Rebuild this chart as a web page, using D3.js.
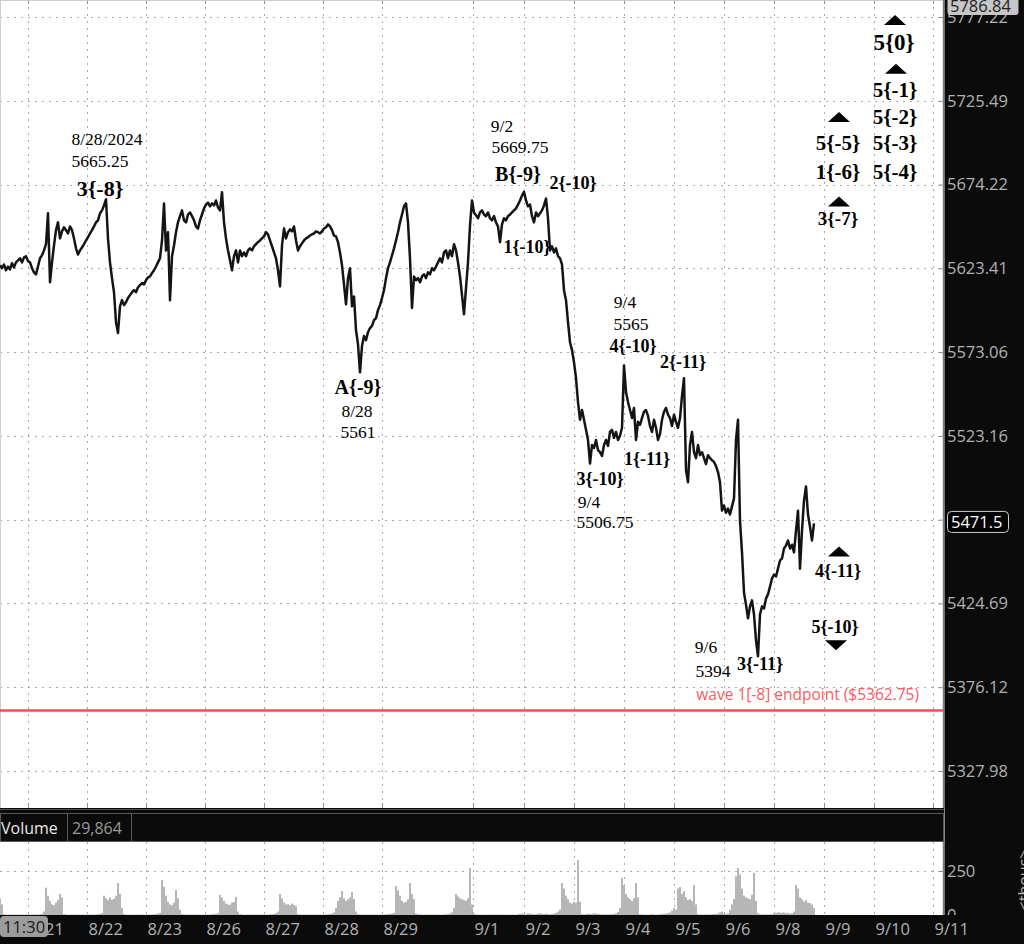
<!DOCTYPE html>
<html><head><meta charset="utf-8">
<script src="https://cdn.jsdelivr.net/npm/d3@7/dist/d3.min.js"></script>
<style>
html,body{margin:0;padding:0;background:#fff;}
svg{display:block;}
</style></head><body>
<svg id="c" width="1024" height="944"></svg>
<script>
// ---------------- DATA ----------------
// price per bar (bar index = position in the array)
const prices = [
5625.25,5623.5,5625.75,5622.25,5624.5,5622.75,5626.5,5624,5627,5628.25,
5629.5,5627,5630,5630.75,5627.75,5627,5623.5,5621,5619.75,5624.5,
5629.5,5631.25,5634.25,5638,5656.75,5615,5627,5637.25,5646.5,5651.25,
5641.5,5645.75,5648.25,5646.5,5644.5,5648.75,5646.5,5641.5,5635.5,5631.75,
5634.25,5636,5638,5640.25,5642.25,5644.5,5646.5,5648.75,5651.25,5652.5,
5656.75,5658.5,5661.5,5665.25,5641.5,5627,5617.5,5609,5591,5584.5,
5600.5,5604.25,5601.25,5603,5605.5,5607.25,5609,5610.25,5609,5612,
5613.25,5614.5,5613.75,5616.25,5618,5618.5,5620.5,5622.25,5624.5,5627,
5629.5,5640.25,5662.75,5634.25,5645.25,5604.25,5630.75,5637.25,5645.25,5651.25,
5655,5658.5,5652.5,5651.25,5656,5657.25,5655,5652.5,5648.75,5647.5,
5652.5,5656,5659.75,5662,5663.25,5661,5662.75,5661.5,5664.5,5660.25,
5658.5,5669.5,5651.25,5641.5,5634.25,5628.25,5622.25,5630.75,5634.25,5627,
5634.25,5630.75,5633,5630.75,5634.25,5635.5,5634.25,5636.75,5638,5639.25,
5640.25,5641.5,5642.75,5645.25,5644,5640.25,5636.75,5633,5629.5,5622.25,
5612.5,5637.25,5647.5,5641.5,5645.25,5647,5645.75,5648.75,5640.25,5634.25,
5636.75,5638.5,5640.25,5641.5,5642.25,5643.25,5644,5644.5,5645.75,5645.25,
5644.5,5645.75,5647.5,5648.25,5650,5648.75,5646.5,5643.25,5642.75,5639.25,
5633,5625.25,5613.75,5601.75,5617.5,5623.5,5600.5,5606.5,5586.25,5577.75,
5561,5576.75,5582.75,5580.25,5585,5587.5,5588.75,5592.25,5593.5,5598.25,
5601.25,5605.5,5610.25,5617.5,5623.5,5627,5631.25,5635.5,5640.25,5645.25,
5651.25,5656,5661,5662.75,5651.25,5629.5,5599.5,5618.5,5616.25,5617.5,
5615,5618.5,5619.75,5617.5,5621,5619.75,5623.5,5622.25,5624.5,5627,
5629.5,5627,5633,5634.25,5629.5,5634.25,5630.75,5638,5634.25,5627,
5618.5,5607.25,5595.75,5611.5,5627,5649.5,5664.5,5657.25,5655.5,5653.75,
5657.25,5658.5,5656,5655,5657.25,5653.75,5652.5,5655,5651.25,5648.75,
5639.25,5650,5653.75,5652.5,5655,5656,5657.25,5658.5,5659.75,5662,
5664.5,5667.5,5669.75,5664.5,5661,5662,5655,5651.25,5657.25,5655,
5656.75,5658.5,5661.5,5665.75,5653.75,5634.25,5636.75,5633,5635.5,5630.75,
5629.5,5625.75,5610.25,5604.25,5591,5579,5574.25,5567,5557.5,5543.25,
5532.75,5538.5,5532.75,5526.75,5520.75,5506.75,5517.75,5516,5520.75,5514.75,
5513.5,5511.25,5517.75,5520.75,5517.25,5525.5,5526.75,5522,5525.5,5520.75,
5523.25,5528,5565,5549.25,5543.25,5538.5,5533.75,5539.75,5520.75,5531.5,
5529.75,5533.75,5537.5,5538.5,5535,5529,5525.5,5532.75,5528,5520.75,
5524.25,5532.75,5537.5,5539.75,5535.75,5533.75,5529,5535.75,5531.5,5528,
5533.75,5547,5557.5,5503,5495.75,5517.75,5525.5,5513.5,5510,5517.75,
5511.75,5513.5,5510,5506.5,5511.75,5510,5508.75,5507.75,5505.25,5501.75,
5495.75,5479,5482,5477.75,5480.25,5476.75,5481.5,5486.25,5520.75,5532.75,
5473,5454.5,5431,5424,5416,5423,5426.5,5418.25,5403.25,5394,
5418.25,5423,5421.75,5427.5,5430,5434.5,5439.25,5441.5,5440.5,5445,
5449.75,5451,5456.75,5458.5,5461.5,5456.75,5459,5454.5,5467.25,5479,
5445,5467.25,5485,5493.25,5476.75,5469.5,5461.5,5471.5
];
// volume per bar, in thousands
const volumes = [
95,60,5,3,2,2,3,2,2,3,
2,3,2,2,3,2,2,3,4,3,
4,6,20,155,110,80,60,55,70,85,
120,100,5,3,2,2,3,2,2,3,
2,2,3,2,2,3,2,3,4,5,
6,10,110,95,85,100,88,92,110,182,
120,40,5,3,2,2,3,2,2,3,
2,3,2,2,3,2,3,4,5,8,
12,199,160,110,75,60,55,70,142,95,
30,5,3,2,3,2,2,3,2,2,
3,2,2,3,2,3,4,5,6,10,
114,100,80,65,60,58,70,75,102,20,
5,3,2,2,3,2,2,3,2,2,
3,2,3,2,3,4,5,6,10,20,
119,95,70,60,62,55,65,58,50,5,
3,2,2,3,2,2,3,2,3,2,
2,3,2,3,4,6,8,15,40,80,
100,136,95,80,90,100,131,90,20,5,
3,2,2,3,2,2,3,2,3,2,
2,3,2,4,5,6,8,12,165,140,
110,80,70,75,90,182,120,90,10,4,
3,2,2,3,2,3,2,2,3,2,
3,2,3,4,5,8,15,40,119,105,
95,90,85,80,95,267,60,5,3,2,
2,2,3,2,2,3,2,2,3,2,
2,3,2,2,3,2,2,3,2,4,
6,8,5,3,10,8,6,4,5,8,
10,6,5,8,6,4,5,8,12,20,
30,182,150,110,90,70,65,75,70,312,
75,5,3,4,8,6,5,10,8,6,
5,4,3,4,3,4,5,6,10,18,
40,210,170,120,100,91,80,95,182,100,
5,3,2,3,2,3,4,3,2,3,
4,5,6,8,10,14,25,40,30,150,
159,120,135,100,85,90,80,170,60,5,
3,3,2,3,4,3,4,5,6,8,
15,20,10,5,10,30,60,90,220,267,
230,150,110,100,95,90,115,239,80,10,
5,4,3,4,3,4,5,8,12,15,
14,12,15,10,12,8,10,20,170,150,
100,90,75,85,70,68,60,40
];
const dateLabels = ["8/21","8/22","8/23","8/26","8/27","8/28","8/29","9/1","9/2","9/3","9/4","9/5","9/6","9/8","9/9","9/10","9/11"];
const dateBars   = [14,43.5,73,102.5,132,161.5,191,236.5,262,287,312,337,362,387,412,437,466.5];
const priceTicks = [5327.98,5376.12,5424.69,5473.70,5523.16,5573.06,5623.41,5674.22,5725.49,5777.22];
const volumeTicks = [0,250];
const lastPrice = 5471.5;
const highPrice = 5786.84;
const lastVolume = 29864;
const wave1End = 5362.75;
const wave1Label = "wave 1[-8] endpoint ($5362.75)";
const timeLabel = "11:30";

const waveLabels = [
 {text:"3{-8}", bar:50, price:5667.0},
 {text:"A{-9}", bar:179, price:5548.1},
 {text:"B{-9}", bar:259, price:5676.1},
 {text:"1{-10}", bar:263.5, price:5632.5},
 {text:"2{-10}", bar:286.5, price:5671.8},
 {text:"3{-10}", bar:300, price:5494.0},
 {text:"4{-10}", bar:316.5, price:5573.1},
 {text:"1{-11}", bar:323.5, price:5505.9},
 {text:"2{-11}", bar:341.5, price:5563.6},
 {text:"3{-11}", bar:380, price:5386.0},
 {text:"4{-11}", bar:419, price:5440.4},
 {text:"5{-10}", bar:417.5, price:5407.4},
 {text:"3{-7}", bar:419, price:5649.4},
 {text:"5{-5}", bar:419, price:5695.2},
 {text:"1{-6}", bar:419, price:5677.9},
 {text:"5{0}", bar:447, price:5756.9},
 {text:"5{-1}", bar:447.5, price:5728.0},
 {text:"5{-2}", bar:447.5, price:5711.3},
 {text:"5{-3}", bar:447.5, price:5695.2},
 {text:"5{-4}", bar:447.5, price:5677.9}
];
const noteLabels = [
 {text:"8/28/2024", bar:53.5, price:5698.3},
 {text:"5665.25", bar:50, price:5684.7},
 {text:"9/2", bar:251, price:5706.3},
 {text:"5669.75", bar:260, price:5693.4},
 {text:"8/28", bar:178.5, price:5534.5},
 {text:"5561", bar:179, price:5522.0},
 {text:"9/4", bar:312.5, price:5599.4},
 {text:"5565", bar:315.5, price:5586.3},
 {text:"9/4", bar:294.5, price:5480.8},
 {text:"5506.75", bar:302.5, price:5469.0},
 {text:"9/6", bar:353, price:5395.8},
 {text:"5394", bar:356.5, price:5381.9}
];
const markers = [
 {dir:"up", bar:447.5, price:5772.3},
 {dir:"up", bar:448, price:5742.1},
 {dir:"up", bar:419.5, price:5712.5},
 {dir:"up", bar:419.5, price:5660.9},
 {dir:"up", bar:419.5, price:5452.1},
 {dir:"down", bar:418, price:5403.3}
];

// ---------------- LAYOUT ----------------
const PR = 943;           // plot right
const MB = 808;           // main plot bottom
const VT = 842, VB = 915; // volume panel top/bottom
const SANS = "'Open Sans','Noto Sans',sans-serif";
const SERIF = "'Liberation Serif','Times New Roman',serif";
const AXC = "#b2b2b2";

const x = d3.scaleLinear().domain([0, 471.5]).range([0, PR]);
const y = d3.scaleLog().domain([5327.98, 5777.22]).range([771, 17]);
const vy = d3.scaleLinear().domain([0, 250]).range([VB, 871]);

const svg = d3.select("#c");
svg.append("rect").attr("width",1024).attr("height",944).attr("fill","#fff");

const defs = svg.append("defs");
defs.append("clipPath").attr("id","mainClip").append("rect").attr("x",0).attr("y",0).attr("width",PR).attr("height",MB);
defs.append("clipPath").attr("id","volClip").append("rect").attr("x",0).attr("y",VT).attr("width",PR).attr("height",VB-VT);

// grid
const grid = svg.append("g").attr("stroke","#a9a9a9").attr("stroke-width",1).attr("stroke-dasharray","2,5");
grid.selectAll("line.h").data(priceTicks).join("line").attr("class","h")
  .attr("x1",0).attr("x2",PR).attr("y1",d=>Math.round(y(d))+0.5).attr("y2",d=>Math.round(y(d))+0.5);
grid.selectAll("line.v").data(dateBars).join("line").attr("class","v")
  .attr("x1",d=>Math.round(x(d))+0.5).attr("x2",d=>Math.round(x(d))+0.5).attr("y1",0).attr("y2",MB);
grid.selectAll("line.vv").data(dateBars).join("line").attr("class","vv")
  .attr("x1",d=>Math.round(x(d))+0.5).attr("x2",d=>Math.round(x(d))+0.5).attr("y1",VT).attr("y2",VB);
grid.selectAll("line.vh").data(volumeTicks.filter(d=>d>0)).join("line").attr("class","vh")
  .attr("x1",0).attr("x2",PR).attr("y1",d=>Math.round(vy(d))+0.5).attr("y2",d=>Math.round(vy(d))+0.5);

// small tick marks at top/bottom of main plot
const tk = svg.append("g").attr("stroke","#8c8c8c").attr("stroke-width",1);
tk.selectAll("line.t").data(dateBars).join("line").attr("class","t")
  .attr("x1",d=>Math.round(x(d))+0.5).attr("x2",d=>Math.round(x(d))+0.5).attr("y1",0).attr("y2",4);
tk.selectAll("line.b").data(dateBars).join("line").attr("class","b")
  .attr("x1",d=>Math.round(x(d))+0.5).attr("x2",d=>Math.round(x(d))+0.5).attr("y1",MB-5).attr("y2",MB);

// borders
svg.append("line").attr("x1",0.5).attr("x2",0.5).attr("y1",0).attr("y2",MB).attr("stroke","#cfcfcf");
svg.append("line").attr("x1",0).attr("x2",PR).attr("y1",0.5).attr("y2",0.5).attr("stroke","#cfcfcf");

// red wave line
const main = svg.append("g").attr("clip-path","url(#mainClip)");
main.append("line").attr("x1",0).attr("x2",PR).attr("y1",y(wave1End)).attr("y2",y(wave1End))
  .attr("stroke","#ff4d4f").attr("stroke-width",2.5);

// price line
const line = d3.line().x((d,i)=>x(i)).y(d=>y(d));
main.append("path").datum(prices).attr("d",line).attr("fill","none")
  .attr("stroke","#141414").attr("stroke-width",2.5).attr("stroke-linejoin","round");

// wave label
main.append("text").attr("x",919).attr("y",y(wave1End)-10).attr("text-anchor","end")
  .attr("font-family",SANS).attr("font-size",15.5).attr("fill","#ff5a5f").text(wave1Label);

// annotations
function degSize(t){
  const d = +t.match(/\{(-?\d+)\}/)[1];
  if (d===0) return 23;
  if (d===-8) return 22;
  if (d===-9) return 20;
  if (d===-7) return 19;
  if (d<=-10) return 18;
  return 21;
}
main.selectAll("text.wave").data(waveLabels).join("text").attr("class","wave")
  .attr("x",d=>x(d.bar)).attr("y",d=>y(d.price)).attr("text-anchor","middle")
  .attr("font-family",SERIF).attr("font-weight","bold").attr("font-size",d=>degSize(d.text))
  .attr("fill","#000").text(d=>d.text);
main.selectAll("text.note").data(noteLabels).join("text").attr("class","note")
  .attr("x",d=>x(d.bar)).attr("y",d=>y(d.price)).attr("text-anchor","middle")
  .attr("font-family",SERIF).attr("font-size",17.5).attr("fill","#000").text(d=>d.text);
main.selectAll("path.mk").data(markers).join("path").attr("class","mk")
  .attr("d",d=>{
    const cx=x(d.bar), by=y(d.price), w=11, h=10;
    return d.dir==="up"
      ? `M${cx-w},${by}L${cx+w},${by}L${cx},${by-h}Z`
      : `M${cx-w},${by}L${cx+w},${by}L${cx},${by+h}Z`;
  }).attr("fill","#000");

// volume bars
const vol = svg.append("g").attr("clip-path","url(#volClip)");
vol.selectAll("rect").data(volumes).join("rect")
  .attr("x",(d,i)=>x(i)-1).attr("width",2)
  .attr("y",d=>vy(d)).attr("height",d=>VB-vy(d)).attr("fill","#b6b6b6");

// right border lines
svg.append("line").attr("x1",PR+0.5).attr("x2",PR+0.5).attr("y1",0).attr("y2",MB).attr("stroke","#7a7a7a").attr("stroke-width",1.5);
svg.append("line").attr("x1",PR+0.5).attr("x2",PR+0.5).attr("y1",VT).attr("y2",VB).attr("stroke","#7a7a7a").attr("stroke-width",1.5);

// right axis background
svg.append("rect").attr("x",PR+1.5).attr("y",0).attr("width",1024-PR).attr("height",944).attr("fill","#0b0b0b");

// price axis (the tick under the last-price box has its label hidden by that box, as in the source)
const yAxis = svg.append("g").attr("transform",`translate(${PR+1},0)`)
  .call(d3.axisRight(y).tickValues(priceTicks)
    .tickFormat(d=>Math.abs(y(d)-y(lastPrice))<12 ? "" : d3.format(".2f")(d))
    .tickSize(-5).tickPadding(3));
yAxis.select(".domain").remove();
yAxis.selectAll("line").attr("stroke","#8a8a8a");
yAxis.selectAll("text").attr("fill",AXC).attr("font-family",SANS).attr("font-size",16.5);

// volume axis
const vAxis = svg.append("g").attr("transform",`translate(${PR+1},0)`)
  .call(d3.axisRight(vy).tickValues(volumeTicks).tickSize(-5).tickPadding(3));
vAxis.select(".domain").remove();
vAxis.selectAll("line").attr("stroke","#8a8a8a");
vAxis.selectAll("text").attr("fill",AXC).attr("font-family",SANS).attr("font-size",16.5);
svg.append("text").attr("transform","translate(1030,880) rotate(-90)").attr("text-anchor","middle")
  .attr("font-family",SANS).attr("font-size",16).attr("fill",AXC).text("<thous>");

// high price box
svg.append("rect").attr("x",947.5).attr("y",-4).attr("width",71).attr("height",19).attr("rx",3).attr("fill","#c6c6c6");
svg.append("text").attr("x",950).attr("y",12).attr("font-family",SANS).attr("font-size",16.5).attr("fill","#222").text(d3.format(".2f")(highPrice));

// last price box
svg.append("rect").attr("x",947.5).attr("y",y(lastPrice)-12).attr("width",61).attr("height",21).attr("rx",4)
  .attr("fill","#000").attr("stroke","#d0d0d0");
svg.append("text").attr("x",951).attr("y",y(lastPrice)+4.5).attr("font-family",SANS).attr("font-size",16.5).attr("fill","#fff").text(lastPrice);

// volume header band
svg.append("rect").attr("x",0).attr("y",MB).attr("width",PR+1).attr("height",VT-MB).attr("fill","#0b0b0b");
svg.append("line").attr("x1",0).attr("x2",PR+1).attr("y1",MB+1.5).attr("y2",MB+1.5).attr("stroke","#505050");
svg.append("rect").attr("x",0.5).attr("y",813.5).attr("width",PR).attr("height",28).attr("fill","none").attr("stroke","#585858");
svg.append("line").attr("x1",67.5).attr("x2",67.5).attr("y1",814).attr("y2",841).attr("stroke","#585858");
svg.append("line").attr("x1",131.5).attr("x2",131.5).attr("y1",814).attr("y2",841).attr("stroke","#585858");
svg.append("text").attr("x",1).attr("y",834).attr("font-family",SANS).attr("font-size",16).attr("fill","#e8e8e8").text("Volume");
svg.append("text").attr("x",72).attr("y",834).attr("font-family",SANS).attr("font-size",16).attr("fill","#9a9a9a").text(d3.format(",")(lastVolume));

// bottom time axis band
svg.append("rect").attr("x",0).attr("y",VB).attr("width",1024).attr("height",944-VB).attr("fill","#0b0b0b");
const xAxis = svg.append("g").attr("transform",`translate(0,${VB})`)
  .call(d3.axisBottom(x).tickValues(dateBars).tickFormat((d,i)=>dateLabels[i]).tickSize(0).tickPadding(8));
xAxis.select(".domain").remove();
xAxis.selectAll("text").attr("text-anchor","start").attr("x",1)
  .attr("fill",AXC).attr("font-family",SANS).attr("font-size",16.5);

// time box
svg.append("rect").attr("x",0).attr("y",916).attr("width",48).attr("height",21).attr("rx",4).attr("fill","#9c9c9c");
svg.append("text").attr("x",3).attr("y",933).attr("font-family",SANS).attr("font-size",16.5).attr("fill","#1c1c1c").text(timeLabel);
</script>
</body></html>
